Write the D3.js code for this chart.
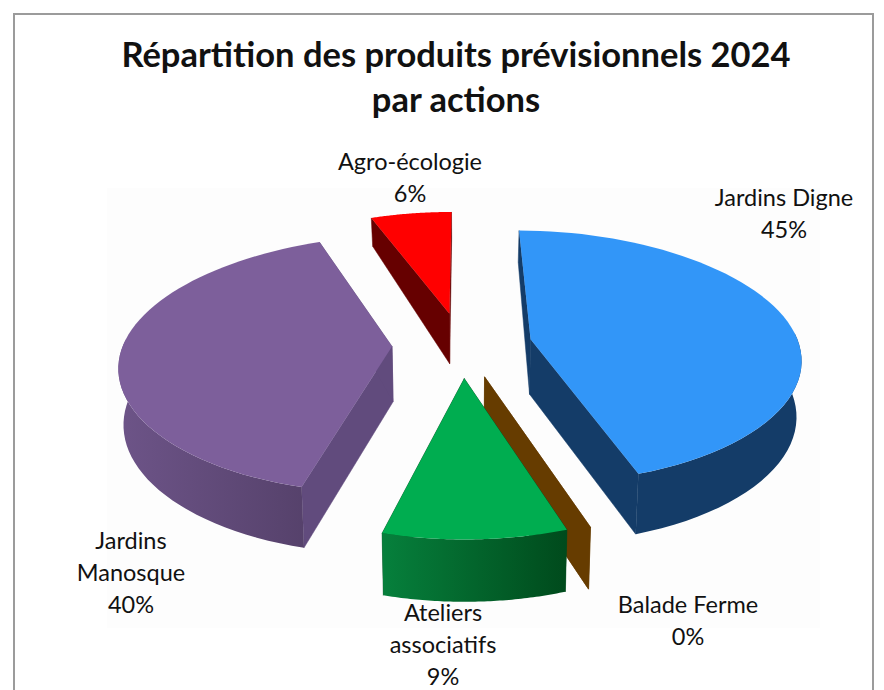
<!DOCTYPE html>
<html>
<head>
<meta charset="utf-8">
<script src="https://cdn.jsdelivr.net/npm/d3@7"></script>
<style>
  html, body { margin: 0; background: #fff; }
  svg { display: block; }
  text { font-family: Lato, "Open Sans", sans-serif; fill: #111; }
</style>
</head>
<body>
<div id="visualization"></div>
<script>
const categories = ["Jardins Digne", "Balade Ferme", "Ateliers associatifs", "Jardins Manosque", "Agro-écologie"];
const values = [45, 0, 9, 40, 6];
const labelLines = [["Jardins Digne"], ["Balade Ferme"], ["Ateliers", "associatifs"], ["Jardins", "Manosque"], ["Agro-écologie"]];
const labelX = [784, 688, 443, 131, 410];
const labelY = [206, 613, 621, 549, 170];
const topColors = ["#3296f8", "#663c00", "#00ad50", "#7d5f9b", "#ff0000"];
const radialColors = ["#143c68", "#663c00", "#004a1c", "#614b7d", "#660000"];
const wallStart = ["#143c68", "#663c00", "#06803c", "#6d5488", "#660000"];
const wallEnd = ["#143c68", "#663c00", "#004a1c", "#544069", "#660000"];
const drawOrder = [4, 3, 0, 1, 2];
const titleLines = ["Répartition des produits prévisionnels 2024", "par actions"];

const width = 884, height = 690;
const cx = 462, cy = 340;
const rx = 262, ry = 124, persp = 0.172, explode = 0.26;

const depth = d3.scaleLinear().domain([-1.2, 0, 1.2]).range([28, 55, 62]);

// pie lying in a plane, seen from above with some perspective
function project(px, py, low) {
    const s = 1 / (1 - persp * py);
    const shrink = low ? 0.985 : 1;
    const bulge = 1 + 0.02 * (1 - Math.min(1, py * py));
    return [
        cx + rx * px * s * shrink * bulge,
        cy + ry * py * s + (low ? depth(py) : 0)
    ];
}

const svg = d3.select("#visualization").append("svg")
    .attr("width", width)
    .attr("height", height);

const defs = svg.append("defs");

svg.append("rect")
    .attr("x", 14).attr("y", 14)
    .attr("width", 859).attr("height", 700)
    .attr("fill", "#fff")
    .attr("stroke", "#9b9b9b")
    .attr("stroke-width", 2);

svg.append("rect")
    .attr("x", 107).attr("y", 188)
    .attr("width", 713).attr("height", 440)
    .attr("fill", "#fdfdfd");

const arcs = d3.pie().sort(null).value(d => d)(values);
const line = d3.line().curve(d3.curveLinear);

const pies = svg.append("g");

drawOrder.forEach(i => {
    const a = arcs[i];
    const mid = (a.startAngle + a.endAngle) / 2;
    const ox = explode * Math.sin(mid);
    const oy = -explode * Math.cos(mid);
    const rim = d3.range(0, 61).map(k => {
        const t = a.startAngle + (a.endAngle - a.startAngle) * k / 60;
        return [ox + Math.sin(t), oy - Math.cos(t)];
    });
    const apex = [ox, oy + 0.035];
    const g = pies.append("g");

    [rim[0], rim[60]].forEach(p => {
        g.append("path")
            .attr("d", line([project(apex[0], apex[1]), project(p[0], p[1]), project(p[0], p[1], true), project(apex[0], apex[1], true)]) + "Z")
            .attr("fill", radialColors[i])
            .attr("stroke", radialColors[i])
            .attr("stroke-width", 0.5);
    });

    const xs = rim.map(p => project(p[0], p[1])[0]);
    const front = rim.filter(p => p[1] - oy > -0.05);
    const grad = defs.append("linearGradient")
        .attr("id", "wall" + i)
        .attr("gradientUnits", "userSpaceOnUse")
        .attr("x1", d3.min(xs)).attr("x2", d3.max(xs))
        .attr("y1", 0).attr("y2", 0);
    grad.append("stop").attr("offset", 0).attr("stop-color", wallStart[i]);
    grad.append("stop").attr("offset", 1).attr("stop-color", wallEnd[i]);

    if (front.length > 1) {
        const pts = front.map(p => project(p[0], p[1]))
            .concat(front.slice().reverse().map(p => project(p[0], p[1], true)));
        g.append("path")
            .attr("d", line(pts) + "Z")
            .attr("fill", `url(#wall${i})`);
    }

    const topPts = [project(apex[0], apex[1])].concat(rim.map(p => project(p[0], p[1])));
    g.append("path")
        .attr("d", line(topPts) + "Z")
        .attr("fill", topColors[i]);
});

titleLines.forEach((t, k) => {
    svg.append("text")
        .attr("x", 456)
        .attr("y", 67 + k * 45)
        .attr("text-anchor", "middle")
        .style("font-size", "34.5px")
        .style("font-weight", "bold")
        .text(t);
});

categories.forEach((c, i) => {
    const lines = labelLines[i].concat([values[i] + "%"]);
    lines.forEach((t, k) => {
        svg.append("text")
            .attr("x", labelX[i])
            .attr("y", labelY[i] + k * 32)
            .attr("text-anchor", "middle")
            .style("font-size", "23.5px")
            .text(t);
    });
});
</script>
</body>
</html>
